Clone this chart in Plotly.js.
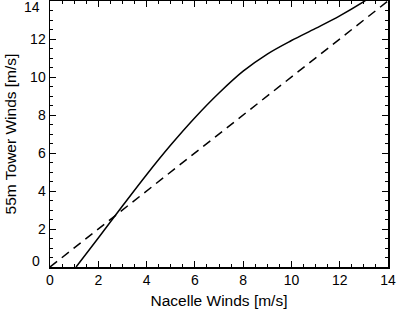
<!DOCTYPE html>
<html>
<head>
<meta charset="utf-8">
<script src="https://cdn.plot.ly/plotly-3.0.1.min.js"></script>
<style>html,body{margin:0;padding:0;background:#fff;}#chart{width:397px;height:309px;}</style>
</head>
<body>
<div id="chart"></div>
<script>
// Solid fitted curve
var fitX = [1.08, 2.0, 3.0, 4.0, 5.0, 6.0, 7.0, 8.0, 9.0, 10.0, 11.0, 12.0, 13.0, 13.3];
var fitY = [0.00, 1.53, 3.21, 4.86, 6.42, 7.86, 9.16, 10.31, 11.21, 11.92, 12.56, 13.22, 13.97, 14.22];
// 1:1 reference line
var oneX = [0, 14];
var oneY = [0, 14];
// Tick labels
var tickVals = [0, 2, 4, 6, 8, 10, 12, 14];
var xTickText = ['0', '2', '4', '6', '8', '10', '12', '14'];
var yTickText = ['', '2', '4', '6', '8', '10', '12', ''];
var yEndLabels = ['0', '14'];
var xTitle = 'Nacelle Winds [m/s]';
var yTitle = '55m Tower Winds [m/s]';

var fam = '"Liberation Sans", Arial, Helvetica, sans-serif';
var font = {family: fam, size: 14, color: '#000'};
var titleFont = {family: fam, size: 15.5, color: '#000'};

var traces = [
  {x: fitX, y: fitY, mode: 'lines', line: {color: '#000', width: 1.5, shape: 'spline', smoothing: 1}, hoverinfo: 'none'},
  {x: oneX, y: oneY, mode: 'lines', line: {color: '#000', width: 1.5, dash: '9px,6px'}, hoverinfo: 'none'}
];

var axisCommon = {
  showgrid: false, zeroline: false, showline: true, linecolor: '#000', linewidth: 1.5,
  mirror: 'ticks', ticks: 'inside', ticklen: 6, tickwidth: 1, tickcolor: '#000',
  tickfont: font, tickmode: 'array', tickvals: tickVals,
  minor: {dtick: 0.5, ticklen: 3, tickwidth: 1, tickcolor: '#000', ticks: 'inside', showgrid: false}
};

var layout = {
  width: 397, height: 309,
  margin: {l: 50, r: 9, t: 1, b: 42, pad: 0},
  paper_bgcolor: '#fff', plot_bgcolor: '#fff',
  showlegend: false,
  font: font,
  xaxis: Object.assign({}, axisCommon, {range: [0, 14], ticktext: xTickText,
    title: {text: xTitle, font: titleFont, standoff: 8}}),
  yaxis: Object.assign({}, axisCommon, {range: [0, 14], ticktext: yTickText,
    title: {text: yTitle, font: titleFont, standoff: 9}}),
  annotations: [
    {xref: 'paper', yref: 'y', x: 0, y: 0, text: yEndLabels[0], showarrow: false, xanchor: 'right', yanchor: 'middle', xshift: -8, yshift: 6, font: font},
    {xref: 'paper', yref: 'y', x: 0, y: 14, text: yEndLabels[1], showarrow: false, xanchor: 'right', yanchor: 'middle', xshift: -8, yshift: -6, font: font}
  ]
};

Plotly.newPlot('chart', traces, layout, {staticPlot: true, displayModeBar: false});
</script>
</body>
</html>
